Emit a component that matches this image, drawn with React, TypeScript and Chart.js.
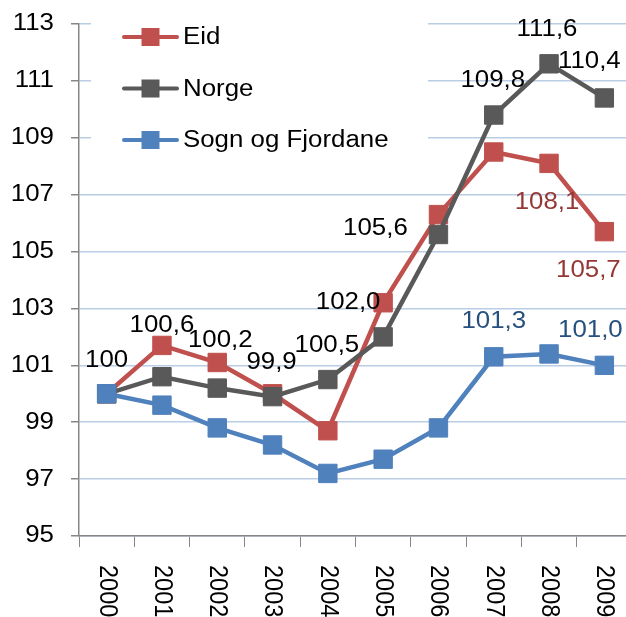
import React, { useEffect, useRef } from "react";
import { Chart, registerables } from "chart.js";

Chart.register(...registerables);

const years = ["2000", "2001", "2002", "2003", "2004", "2005", "2006", "2007", "2008", "2009"];
const eid = [100, 101.7, 101.1, 100.0, 98.7, 103.2, 106.3, 108.5, 108.1, 105.7];
const norge = [100, 100.6, 100.2, 99.9, 100.5, 102.0, 105.6, 109.8, 111.6, 110.4];
const sogn = [100, 99.6, 98.8, 98.2, 97.2, 97.7, 98.8, 101.3, 101.4, 101.0];
const yTicks = [95, 97, 99, 101, 103, 105, 107, 109, 111, 113];

const FONT = "'Liberation Sans', Arial, sans-serif";
const FS = 23.5;
const SX = 1.1;

const fmt = (v: number) => (v === 100 ? "100" : v.toFixed(1).replace(".", ","));

const norgeLabelPos = [[0, -33], [0, -51], [3, -48], [-1, -34], [-1, -34], [-35, -34], [-63, -6], [-1, -35], [-2, -34], [-15, -36]];
const eidLabelPos = [null, null, null, null, null, null, null, null, [-2, 39], [-16, 39]];
const sognLabelPos = [null, null, null, null, null, null, null, [0, -35], null, [-14, -35]];

function drawText(ctx: any, text: string, x: number, y: number, align: string, color: string) {
  ctx.save();
  ctx.font = `${FS}px ${FONT}`;
  ctx.fillStyle = color;
  ctx.textAlign = align;
  ctx.textBaseline = "middle";
  ctx.translate(x, y);
  ctx.scale(SX, 1);
  ctx.fillText(text, 0, 0);
  ctx.restore();
}

const dataLabelPlugin = {
  id: "dataLabels",
  afterDatasetsDraw(chart: any) {
    const ctx = chart.ctx;
    chart.data.datasets.forEach((ds: any, di: number) => {
      const pos = ds.labelPos;
      if (!pos) return;
      const meta = chart.getDatasetMeta(di);
      meta.data.forEach((pt: any, i: number) => {
        const p = pos[i];
        if (!p) return;
        drawText(ctx, fmt(ds.data[i]), pt.x + p[0], pt.y + p[1], "center", ds.labelColor);
      });
    });
  },
};

const legendPlugin = {
  id: "overlayLegend",
  beforeDatasetsDraw(chart: any) {
    const ctx = chart.ctx;
    ctx.save();
    ctx.fillStyle = "#ffffff";
    ctx.fillRect(91, chart.chartArea.top - 2, 337, 146);
    ctx.restore();
  },
  afterDraw(chart: any) {
    const ctx = chart.ctx;
    ctx.save();
    chart.data.datasets.forEach((ds: any, i: number) => {
      const y = 37 + i * 51.5;
      ctx.strokeStyle = ds.borderColor;
      ctx.lineWidth = 4;
      ctx.lineCap = "round";
      ctx.beginPath();
      ctx.moveTo(124, y);
      ctx.lineTo(177, y);
      ctx.stroke();
      ctx.fillStyle = ds.borderColor;
      ctx.fillRect(141.5, y - 9, 18, 18);
      drawText(ctx, ds.label, 183, y + 1, "left", "#000");
    });
    ctx.restore();
  },
};

const axisLabelPlugin = {
  id: "axisLabels",
  afterDraw(chart: any) {
    const ctx = chart.ctx;
    const xs = chart.scales.x;
    const ys = chart.scales.y;
    chart.data.labels.forEach((lab: string, i: number) => {
      const x = xs.getPixelForValue(i);
      ctx.save();
      ctx.font = `${FS}px ${FONT}`;
      ctx.fillStyle = "#000";
      ctx.textAlign = "left";
      ctx.textBaseline = "middle";
      ctx.translate(x, chart.chartArea.bottom + 29);
      ctx.rotate(Math.PI / 2);
      ctx.scale(1, SX);
      ctx.fillText(lab, 0, 0);
      ctx.restore();
    });
    yTicks.forEach((v) => {
      drawText(ctx, String(v), 54, ys.getPixelForValue(v), "right", "#000");
    });
  },
};

export default function App() {
  const ref = useRef<HTMLCanvasElement | null>(null);
  useEffect(() => {
    document.body.style.margin = "0";
    document.body.style.overflow = "hidden";
    if (!ref.current) return;
    const mk = (label: string, data: number[], color: string, order: number, labelPos: any, labelColor: string) => ({
      label,
      data,
      borderColor: color,
      backgroundColor: color,
      pointBackgroundColor: color,
      pointBorderColor: color,
      borderWidth: 4.5,
      pointStyle: "rect",
      pointRadius: 13,
      pointHoverRadius: 13,
      pointBorderWidth: 1,
      tension: 0,
      order,
      labelPos,
      labelColor,
    });
    const chart = new Chart(ref.current, {
      type: "line",
      data: {
        labels: years,
        datasets: [
          mk("Eid", eid, "#c0504d", 2, eidLabelPos, "#953735"),
          mk("Norge", norge, "#595959", 1, norgeLabelPos, "#000000"),
          mk("Sogn og Fjordane", sogn, "#4f81bd", 0, sognLabelPos, "#25507f"),
        ] as any,
      },
      options: {
        responsive: false,
        animation: false,
        layout: { padding: { top: 24, right: 8, left: 0, bottom: 0 } },
        plugins: { legend: { display: false }, tooltip: { enabled: false } },
        scales: {
          x: {
            type: "category",
            offset: true,
            afterFit(scale: any) {
              scale.height = 104;
              scale.paddingLeft = 0;
              scale.paddingRight = 0;
              scale.paddingTop = 0;
              scale.paddingBottom = 0;
            },
            grid: {
              offset: true,
              drawOnChartArea: false,
              tickLength: 11,
              color: "#868686",
              tickColor: "#868686",
              lineWidth: 1,
            },
            border: { color: "#868686", width: 1.5 },
            ticks: { display: false },
          },
          y: {
            min: 95,
            max: 113,
            afterFit(scale: any) {
              scale.width = 79;
              scale.paddingTop = 0;
              scale.paddingBottom = 0;
              scale.paddingLeft = 0;
              scale.paddingRight = 0;
            },
            afterBuildTicks(scale: any) {
              scale.ticks = yTicks.map((v) => ({ value: v }));
            },
            ticks: { display: false },
            grid: {
              color: "#b9cde5",
              tickColor: "#868686",
              tickLength: 8,
              lineWidth: 1.5,
            },
            border: { color: "#868686", width: 1.5 },
          },
        },
      } as any,
      plugins: [legendPlugin, dataLabelPlugin, axisLabelPlugin],
    });
    return () => chart.destroy();
  }, []);
  return <canvas ref={ref} width={646} height={640} style={{ display: "block" }} />;
}
